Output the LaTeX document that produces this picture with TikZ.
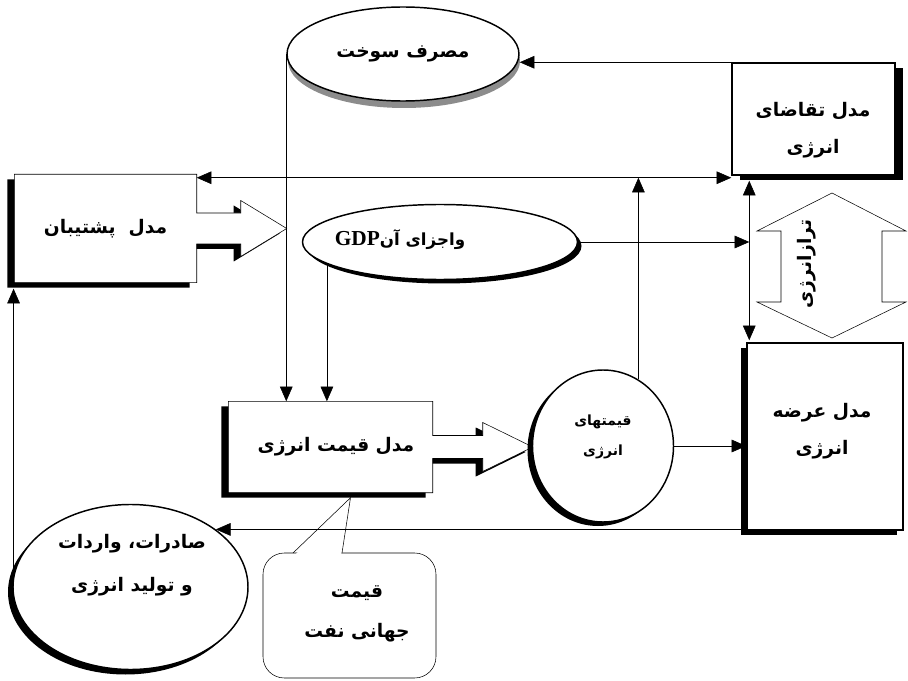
\documentclass[tikz,border=0pt]{standalone}
\usepackage{fontspec}
\newfontfamily\fa[Script=Arabic]{DejaVu Sans}
\newfontfamily\lat{Liberation Serif}
\TeXXeTstate=1
\usetikzlibrary{shapes.geometric,arrows.meta,shadows,backgrounds,calc}
\newcommand{\rl}[1]{\beginR#1\endR}
\newcommand{\arrowbox}[5]{(#1.north west) -- (#1.north east)
  -- ([shift={(0,-#2)}]#1.east) -- ++(#4,0) -- ++(0,{#2-#3})
  -- ([shift={(#4+#5,0)}]#1.east) -- ([shift={(#4,#3)}]#1.east)
  -- ++(0,{#2-#3}) -- ([shift={(0,#2)}]#1.east)
  -- (#1.south east) -- (#1.south west) -- cycle}

\begin{document}
\begin{tikzpicture}[x=0.75pt,y=-0.75pt,line width=1.1pt,
  >={Triangle[length=11pt,width=9.5pt]},
  every node/.style={font=\fa\bfseries\fontsize{14}{28}\selectfont,align=center},
  sz/.style 2 args={minimum width=#1*0.75pt,minimum height=#2*0.75pt},
  sh/.style 2 args={drop shadow={shadow xshift=#1*0.75pt,shadow yshift=-#2*0.75pt,fill=black,opacity=1}},
  box/.style={draw,fill=white}]
\useasboundingbox (0,0) rectangle (908,681);

\node(fuel)[ellipse,box,sz={232}{94},drop shadow={shadow xshift=0.75pt,shadow yshift=-5.25pt,fill=black!45,opacity=1}] at(403,54) {\rl{مصرف سوخت}};
\node(demand)[box,sz={163}{112},sh={8}{5}] at(813.5,119) {};
\node(demandtext) at(813,130) {\rl{مدل تقاضای}\\\rl{انرژی}};
\node(support)[sz={181}{107}] at(105.5,228.5) {\rl{مدل\ \ پشتیبان}};
\node(gdp)[ellipse,box,sz={275}{75},sh={4}{4}] at(440,242) {};
\node(gdptext)[font=\fa\bfseries\fontsize{12.5}{20}\selectfont] at(400,240) {\rl{واجزای آن\beginL{\lat\fontsize{16}{20}\selectfont GDP}\endL}};
\node(price)[sz={203}{90}] at(330.5,447) {};
\node(pricetext) at(336,447) {\rl{مدل قیمت انرژی}};
\node(prices)[ellipse,box,sz={141}{152},sh={-5}{4}] at(603,446) {};
\node(pricestext)[font=\fa\bfseries\fontsize{10.5}{23}\selectfont] at(603,437) {\rl{قیمتهای}\\\rl{انرژی}};
\node(supply)[box,sz={156}{187},sh={-6}{5}] at(825,436.5) {};
\node(supplytext) at(822,431) {\rl{مدل عرضه}\\\rl{انرژی}};
\node(exports)[ellipse,box,sz={235}{165},sh={-5}{5}] at(130.5,587) {};
\node(exportstext)[font=\fa\bfseries\fontsize{14}{32}\selectfont] at(132,565) {\rl{صادرات، واردات}\\\rl{و تولید انرژی}};
\node(oil)[font=\fa\bfseries\fontsize{14}{30}\selectfont] at(357,614) {\rl{قیمت}\\\rl{جهانی نفت}};
\node(balance)[rotate=90,font=\fa\bfseries\fontsize{14}{16}\selectfont] at(807,264) {\rl{ترازانرژی}};

\begin{pgfonlayer}{background}
\draw[box,sh={-7}{5}] \arrowbox{support}{15.5}{28}{44}{46};
\draw[box,sh={-7}{5}] \arrowbox{price}{11.5}{24.5}{50}{50};
\draw[box] (832,193) -- (906,231) -- (882,231) -- (882,302) -- (906,302)
  -- (832,338) -- (757,302) -- (781,302) -- (781,231) -- (757,231) -- cycle;
\draw[box,rounded corners=16pt] (263,553) rectangle (436,678);
\fill[white] (294,556) -- ($(price.south)+(20,5)$) -- (341,556) -- cycle;
\draw (293,553) -- ($(price.south)+(20,5)$) -- (342,553);
\end{pgfonlayer}

\coordinate(jn) at ($(prices.62 |- demand.south)+(0,2)$);
\coordinate(dtop) at ($(demand.south west)+(18,5)$);
\coordinate(dbot) at ($(supply.north west)+(3,-2)$);

\draw[->] (demand.north west) -- (demand.north west -| fuel.east);
\draw[->] (fuel.west) -- (fuel.west |- price.north);
\draw[->] (gdp.191) -- (gdp.191 |- price.north);
\draw[->] (gdp.east) -- (gdp.east -| dtop);
\draw[<->] (dtop) -- (dbot);
\draw[->] (prices.62) -- (jn);
\draw[->] (jn) -- (jn -| support.east);
\draw[->] (jn) -- (jn -| demand.west);
\draw[->] (prices.east) -- (prices.east -| supply.west);
\draw[->] (exports.34 -| supply.west) -- (exports.34);
\draw[->] (exports.174) -- ($(exports.174 |- support.south)+(0,6)$);

\end{tikzpicture}
\end{document}
